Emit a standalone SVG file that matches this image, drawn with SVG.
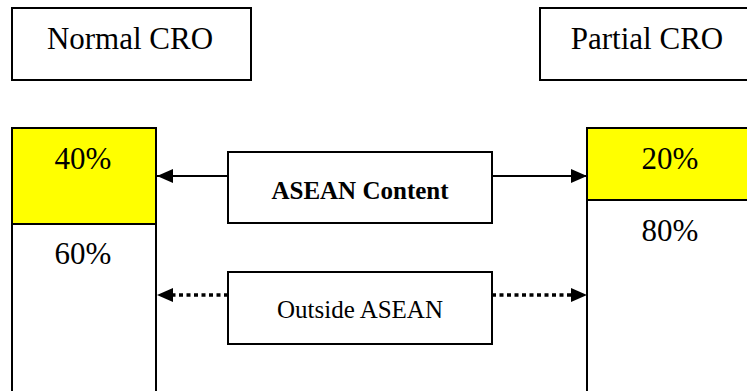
<svg xmlns="http://www.w3.org/2000/svg" width="747" height="391" viewBox="0 0 747 391">
<style>
.box{fill:#fff;stroke:#000;stroke-width:2}
.yel{fill:#ffff00;stroke:#000;stroke-width:2}
.t{font-family:"Liberation Serif","Times New Roman",serif;fill:#000;text-anchor:middle}
.big{font-size:31px}
.mid{font-size:25px}
.b{font-weight:bold}
.ln{stroke:#000;stroke-width:2;fill:none}
.dot{stroke:#000;stroke-width:3.5;stroke-dasharray:4 3.5;fill:none}
</style>
<defs>
<marker id="ah" viewBox="0 0 16 14" refX="16" refY="7" markerWidth="16" markerHeight="14" markerUnits="userSpaceOnUse" orient="auto-start-reverse">
<path d="M0,0 L16,7 L0,14 Z" fill="#000"/>
</marker>
</defs>
<rect width="747" height="391" fill="#fff"/>
<g id="normal-cro">
<rect class="box" x="12" y="8" width="239" height="72"/>
<text class="t big" x="130" y="49">Normal CRO</text>
</g>
<g id="partial-cro">
<rect class="box" x="540" y="8" width="220" height="72"/>
<text class="t big" x="647" y="49">Partial CRO</text>
</g>
<g id="normal-column">
<rect class="box" x="12" y="128" width="144" height="280"/>
<rect class="yel" x="12" y="128" width="144" height="96"/>
<text class="t big" x="83" y="169">40%</text>
<text class="t big" x="83" y="264">60%</text>
</g>
<g id="partial-column">
<rect class="box" x="587" y="128" width="180" height="280"/>
<rect class="yel" x="587" y="128" width="180" height="72"/>
<text class="t big" x="670" y="169">20%</text>
<text class="t big" x="670" y="241">80%</text>
</g>
<g id="connectors">
<line class="ln" x1="228" y1="176" x2="157" y2="176" marker-end="url(#ah)"/>
<line class="ln" x1="492" y1="176" x2="587" y2="176" marker-end="url(#ah)"/>
<line class="dot" x1="228" y1="295" x2="170" y2="295"/>
<path d="M157,295 L173,288 L173,302 Z" fill="#000"/>
<line class="dot" x1="492" y1="295" x2="574" y2="295"/>
<path d="M587,295 L571,288 L571,302 Z" fill="#000"/>
</g>
<g id="asean-content">
<rect class="box" x="228" y="152" width="264" height="71"/>
<text class="t mid b" x="360" y="199">ASEAN Content</text>
</g>
<g id="outside-asean">
<rect class="box" x="228" y="272" width="264" height="72"/>
<text class="t mid" x="360" y="318">Outside ASEAN</text>
</g>
</svg>
